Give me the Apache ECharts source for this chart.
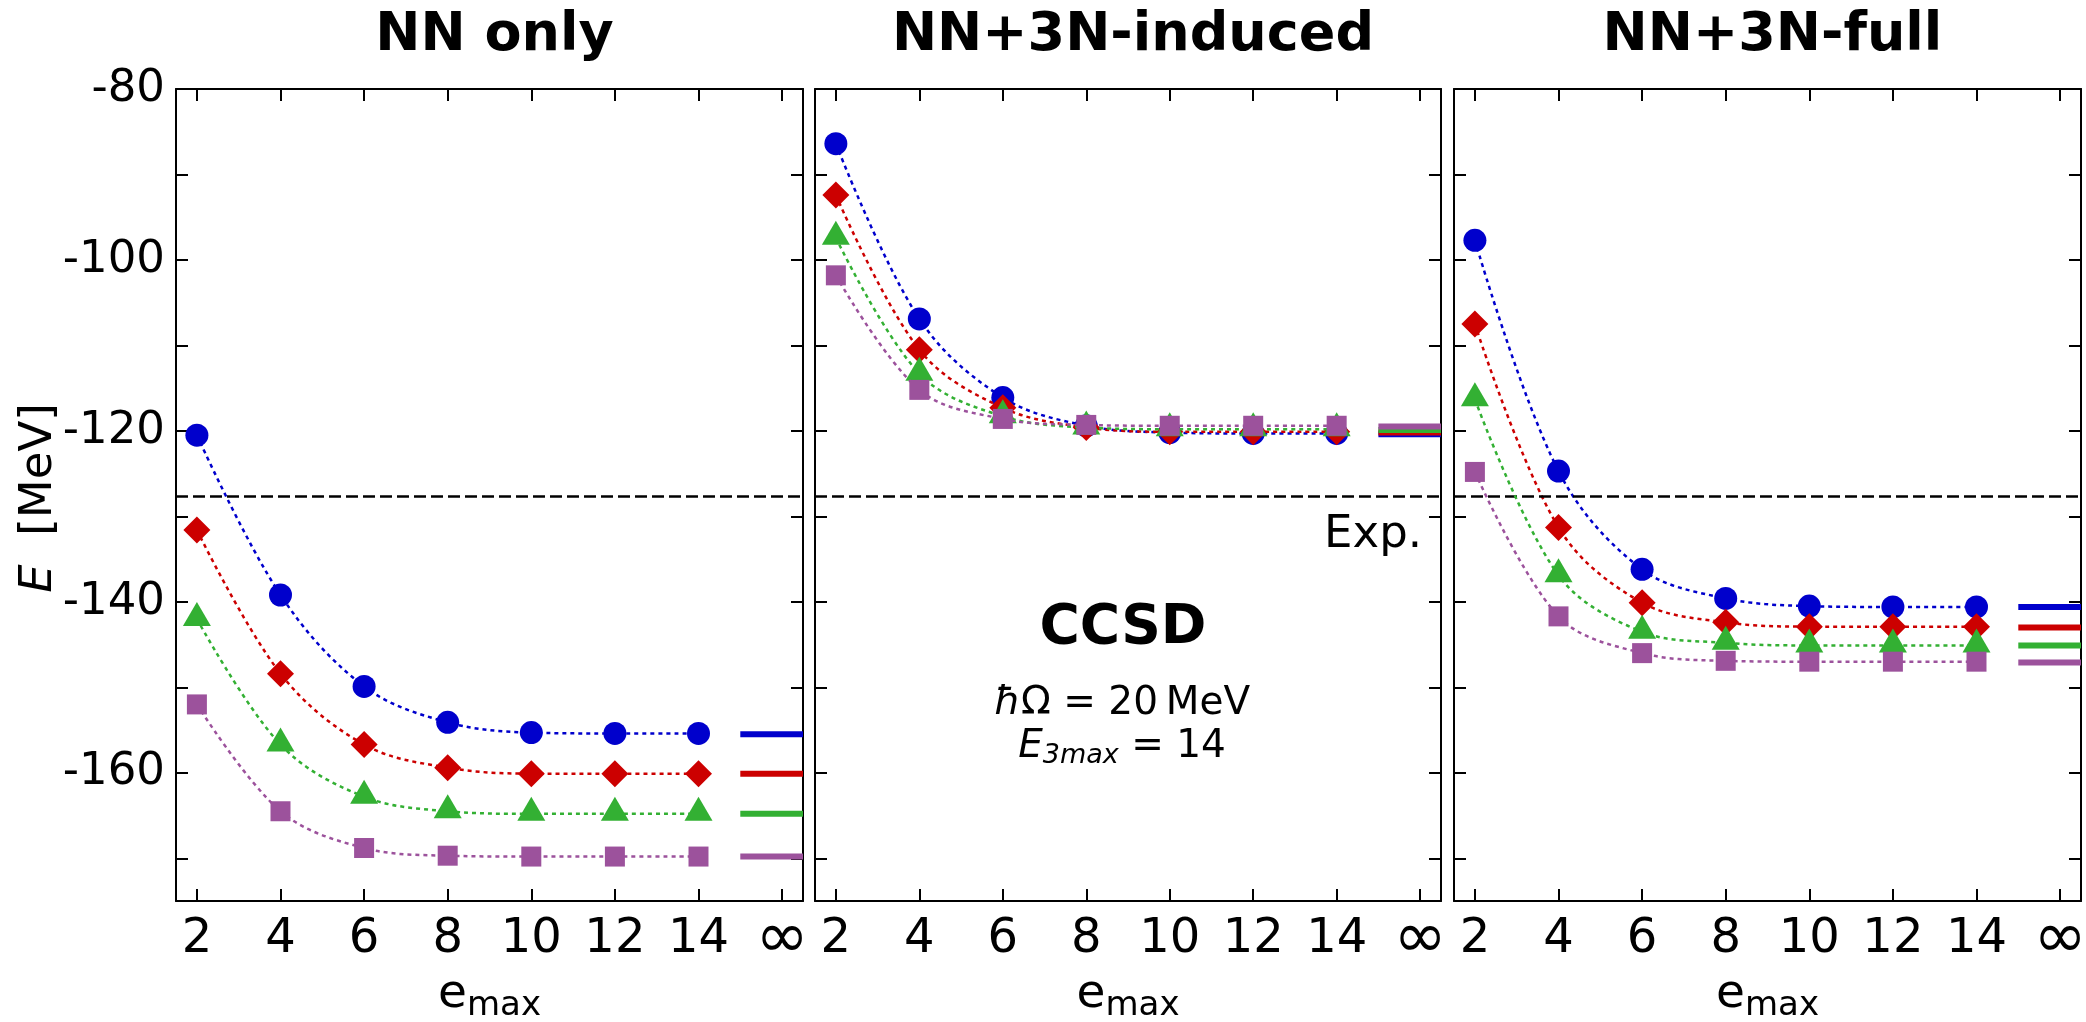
<!DOCTYPE html>
<html>
<head>
<meta charset="utf-8">
<style>
  html, body { margin: 0; padding: 0; background: #fff; }
  #chart { width: 2086px; height: 1022px; }
</style>
<script src="https://cdn.jsdelivr.net/npm/echarts/dist/echarts.min.js"></script>
</head>
<body>
<div id="chart"></div>
<script>
// ---------------- data ----------------
const emax = [2, 4, 6, 8, 10, 12, 14];
const INF_POS = 16;           // x position used for the "∞" category
const INF_LABEL = '∞';
const xTicks = [2, 4, 6, 8, 10, 12, 14, 16];
const yTicks = [-170, -160, -150, -140, -130, -120, -110, -100, -90, -80];
const yLabels = [-160, -140, -120, -100, -80];
const Y_MIN = -175, Y_MAX = -80;
const X_MIN = 1.5, X_MAX = 16.5;
const EXP = -127.6;

const panelTitles = ['NN only', 'NN+3N-induced', 'NN+3N-full'];

// NN only
const nnBlue   = [-120.5, -139.2, -149.9, -154.1, -155.3, -155.4, -155.4];
const nnRed    = [-131.6, -148.4, -156.7, -159.4, -160.1, -160.1, -160.1];
const nnGreen  = [-142.0, -156.7, -162.8, -164.5, -164.8, -164.8, -164.8];
const nnPurple = [-152.0, -164.5, -168.8, -169.7, -169.8, -169.8, -169.8];
const nnInf    = [-155.5, -160.1, -164.8, -169.8];

// NN+3N-induced
const indBlue   = [-86.4, -106.9, -116.1, -119.4, -120.2, -120.3, -120.3];
const indRed    = [-92.4, -110.5, -117.3, -119.6, -120.1, -120.1, -120.1];
const indGreen  = [-97.4, -113.3, -118.3, -119.6, -119.8, -119.8, -119.8];
const indPurple = [-101.8, -115.2, -118.6, -119.3, -119.4, -119.4, -119.4];
const indInf    = [-120.4, -120.2, -119.9, -119.5];

// NN+3N-full
const fullBlue   = [-97.7, -124.7, -136.2, -139.6, -140.5, -140.6, -140.6];
const fullRed    = [-107.5, -131.3, -140.1, -142.4, -142.9, -142.9, -142.9];
const fullGreen  = [-116.3, -136.9, -143.5, -144.8, -145.1, -145.1, -145.1];
const fullPurple = [-124.8, -141.7, -146.0, -146.9, -147.0, -147.0, -147.0];
const fullInf    = [-140.6, -143.0, -145.1, -147.1];

const panelSeries = [
  [nnBlue, nnRed, nnGreen, nnPurple],
  [indBlue, indRed, indGreen, indPurple],
  [fullBlue, fullRed, fullGreen, fullPurple]
];
const panelInf = [nnInf, indInf, fullInf];

// ---------------- styles ----------------
const FONT = '"DejaVu Sans", "Noto Sans", sans-serif';
const styles = [
  { color: '#0000CC', symbol: 'circle',   size: 23,       offset: [0, 0] },
  { color: '#CC0000', symbol: 'diamond',  size: [27, 27], offset: [0, 0] },
  { color: '#33B033', symbol: 'triangle', size: [28, 24], offset: [0, -5] },
  { color: '#9C529C', symbol: 'rect',     size: [20, 20], offset: [0, 0] }
];
const grids = [
  { left: 176, top: 89, width: 627, height: 812 },
  { left: 815, top: 89, width: 626, height: 812 },
  { left: 1454, top: 89, width: 627, height: 812 }
];

const chart = echarts.init(document.getElementById('chart'), null, { renderer: 'canvas' });

const gridOpt = grids.map(g => Object.assign({ containLabel: false, outerBoundsMode: 'none', show: false }, g));
const xAxes = [], yAxes = [], series = [];

grids.forEach((g, i) => {
  ['bottom', 'top'].forEach(pos => {
    xAxes.push({
      type: 'value', gridIndex: i, position: pos, min: X_MIN, max: X_MAX,
      axisLine: { show: true, onZero: false, lineStyle: { color: '#000', width: 2 } },
      axisTick: { show: true, inside: true, length: 12, customValues: xTicks, lineStyle: { color: '#000', width: 2 } },
      axisLabel: {
        show: pos === 'bottom', customValues: xTicks,
        formatter: v => (v === INF_POS ? '{inf|' + INF_LABEL + '}' : '{n|' + v + '}'),
        fontSize: 48, fontFamily: FONT, color: '#000', margin: 15,
        rich: {
          n: { fontSize: 48, fontFamily: FONT, color: '#000', lineHeight: 48 },
          inf: { fontSize: 64, fontFamily: FONT, color: '#000', lineHeight: 48 }
        }
      },
      splitLine: { show: false }
    });
  });
  ['left', 'right'].forEach(pos => {
    yAxes.push({
      type: 'value', gridIndex: i, position: pos, min: Y_MIN, max: Y_MAX,
      axisLine: { show: true, onZero: false, lineStyle: { color: '#000', width: 2 } },
      axisTick: { show: true, inside: true, length: 12, customValues: yTicks, lineStyle: { color: '#000', width: 2 } },
      axisLabel: {
        show: pos === 'left' && i === 0, customValues: yLabels,
        fontSize: 45, fontFamily: FONT, color: '#000', margin: 11,
        padding: [0, 0, 8, 0]
      },
      splitLine: { show: false }
    });
  });

  // experimental line
  series.push({
    type: 'line', xAxisIndex: 2 * i, yAxisIndex: 2 * i, data: [], silent: true,
    markLine: {
      silent: true, symbol: ['none', 'none'], label: { show: false },
      lineStyle: { color: '#000', width: 2.5, type: [12, 5] },
      data: [{ yAxis: EXP }]
    }
  });

  panelSeries[i].forEach((vals, k) => {
    const st = styles[k];
    series.push({
      type: 'line', xAxisIndex: 2 * i, yAxisIndex: 2 * i,
      data: emax.map((x, j) => [x, vals[j]]),
      smooth: 0.35,
      symbol: st.symbol, symbolSize: st.size, symbolOffset: st.offset,
      itemStyle: { color: st.color },
      lineStyle: { color: st.color, width: 2.5, type: [4, 4] },
      z: 3 + k
    });
    const inf = panelInf[i][k];
    series.push({
      type: 'line', xAxisIndex: 2 * i, yAxisIndex: 2 * i,
      data: [[INF_POS - 1, inf], [INF_POS + 0.5, inf]],
      symbol: 'none',
      lineStyle: { color: st.color, width: 6 },
      z: 3 + k
    });
  });
});

// ---------------- texts ----------------
const mctx = document.createElement('canvas').getContext('2d');
function measure(t, size, italic, bold) {
  mctx.font = (italic ? 'italic ' : '') + (bold ? 'bold ' : '') + size + 'px ' + FONT;
  return mctx.measureText(t).width;
}
function txt(x, y, text, size, opts) {
  opts = opts || {};
  return {
    type: 'text', x: x, y: y, rotation: opts.rotation || 0, silent: true,
    style: {
      text: text, fontSize: size, fontFamily: FONT,
      fontStyle: opts.italic ? 'italic' : 'normal',
      fontWeight: opts.bold ? 'bold' : 'normal',
      fill: '#000',
      align: opts.align || 'center', textAlign: opts.align || 'center',
      verticalAlign: 'middle', textVerticalAlign: 'middle',
      rich: opts.rich
    }
  };
}
// row of segments centered at cx with alphabetic baseline at by
function row(cx, by, segs) {
  const w = segs.map(s => measure(s.t, s.size, s.italic, s.bold));
  const total = w.reduce((a, b) => a + b, 0);
  let x = cx - total / 2;
  return segs.map((s, k) => {
    const el = txt(x, by + (s.dy || 0) - 0.346 * s.size, s.t, s.size, { italic: s.italic, bold: s.bold, align: 'left' });
    x += w[k];
    return el;
  });
}

const graphics = [];
grids.forEach((g, i) => {
  const cx = g.left + g.width / 2;
  graphics.push(txt(cx + 5, 36, panelTitles[i], 54, { bold: true }));
  row(cx, 1011, [{ t: 'e', size: 47 }, { t: 'max', size: 34, dy: 7 }]).forEach(e => graphics.push(e));
});
graphics.push(txt(39, 498, '{i|E}  [MeV]', 45, {
  rotation: Math.PI / 2,
  rich: { i: { fontStyle: 'italic', fontSize: 45, fontFamily: FONT } }
}));
graphics.push(txt(1422, 535, 'Exp.', 45, { align: 'right' }));
graphics.push(txt(1123, 629, 'CCSD', 55, { bold: true }));
row(1122, 717, [{ t: 'ħ', size: 39, italic: true }, { t: 'Ω = 20', size: 39 }, { t: '\u2009MeV', size: 39 }]).forEach(e => graphics.push(e));
row(1122, 760, [{ t: 'E', size: 39, italic: true }, { t: '3max', size: 27, italic: true, dy: 5 }, { t: ' = 14', size: 39 }]).forEach(e => graphics.push(e));

chart.setOption({
  animation: false,
  backgroundColor: '#fff',
  grid: gridOpt,
  xAxis: xAxes,
  yAxis: yAxes,
  series: series,
  graphic: { elements: graphics }
});
</script>
</body>
</html>
